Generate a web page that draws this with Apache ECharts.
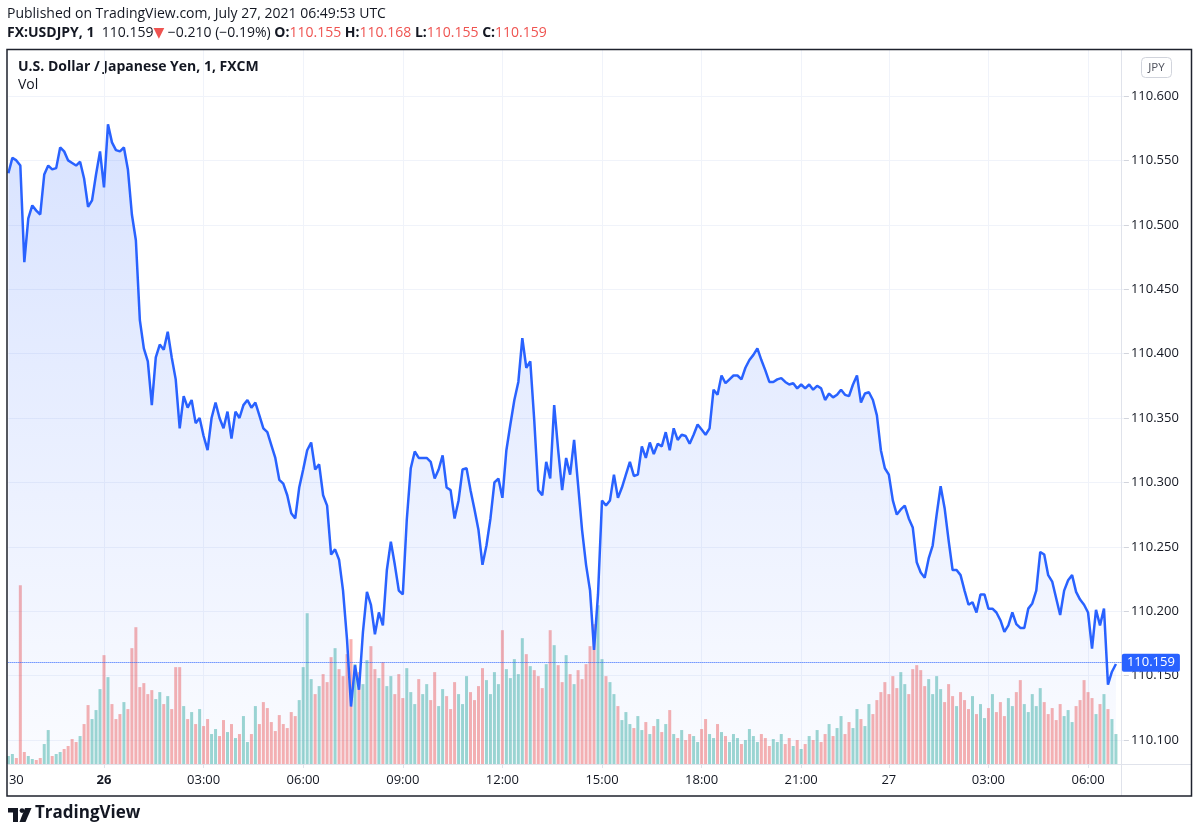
<!DOCTYPE html>
<html>
<head>
<meta charset="utf-8">
<title>USDJPY 1m</title>
<script src="https://cdn.jsdelivr.net/npm/echarts@6/dist/echarts.min.js"></script>
<style>
  html, body { margin: 0; padding: 0; background: #fff; }
  #chart { width: 1200px; height: 837px; }
</style>
</head>
<body>
<div id="chart"></div>
<script>
// one point every ~7 minutes of the 1-minute USDJPY series
var prices = [
  110.540, 110.552, 110.550, 110.546, 110.471, 110.505, 110.515, 110.511, 110.508, 110.539,
  110.546, 110.543, 110.544, 110.560, 110.557, 110.550, 110.548, 110.546, 110.549, 110.536,
  110.514, 110.519, 110.539, 110.557, 110.529, 110.578, 110.564, 110.558, 110.557, 110.560,
  110.543, 110.508, 110.488, 110.426, 110.404, 110.394, 110.360, 110.397, 110.407, 110.403,
  110.417, 110.397, 110.380, 110.342, 110.367, 110.358, 110.364, 110.346, 110.350, 110.336,
  110.325, 110.350, 110.362, 110.350, 110.342, 110.355, 110.334, 110.355, 110.350, 110.360,
  110.364, 110.358, 110.362, 110.352, 110.342, 110.339, 110.329, 110.319, 110.302, 110.299,
  110.290, 110.276, 110.272, 110.296, 110.310, 110.325, 110.331, 110.310, 110.314, 110.290,
  110.282, 110.244, 110.248, 110.240, 110.216, 110.178, 110.126, 110.158, 110.139, 110.184,
  110.215, 110.205, 110.182, 110.199, 110.189, 110.232, 110.254, 110.236, 110.216, 110.213,
  110.271, 110.311, 110.324, 110.319, 110.319, 110.319, 110.316, 110.303, 110.310, 110.321,
  110.296, 110.294, 110.272, 110.286, 110.310, 110.311, 110.294, 110.279, 110.263, 110.236,
  110.251, 110.272, 110.300, 110.303, 110.288, 110.325, 110.345, 110.364, 110.378, 110.412,
  110.389, 110.394, 110.348, 110.294, 110.290, 110.316, 110.303, 110.360, 110.325, 110.294,
  110.319, 110.306, 110.333, 110.298, 110.263, 110.236, 110.216, 110.170, 110.213, 110.286,
  110.282, 110.286, 110.306, 110.288, 110.296, 110.306, 110.316, 110.305, 110.306, 110.328,
  110.319, 110.331, 110.322, 110.330, 110.328, 110.339, 110.325, 110.342, 110.333, 110.337,
  110.336, 110.330, 110.337, 110.345, 110.341, 110.337, 110.342, 110.372, 110.368, 110.383,
  110.377, 110.380, 110.383, 110.383, 110.380, 110.389, 110.395, 110.399, 110.404, 110.395,
  110.387, 110.378, 110.378, 110.380, 110.381, 110.378, 110.376, 110.377, 110.373, 110.376,
  110.373, 110.376, 110.372, 110.375, 110.373, 110.364, 110.369, 110.366, 110.368, 110.372,
  110.368, 110.367, 110.376, 110.383, 110.362, 110.369, 110.370, 110.364, 110.352, 110.325,
  110.311, 110.306, 110.286, 110.275, 110.279, 110.282, 110.272, 110.265, 110.238, 110.230,
  110.226, 110.241, 110.251, 110.275, 110.297, 110.280, 110.255, 110.232, 110.232, 110.228,
  110.216, 110.205, 110.207, 110.199, 110.213, 110.213, 110.202, 110.202, 110.199, 110.193,
  110.184, 110.189, 110.199, 110.190, 110.187, 110.187, 110.202, 110.206, 110.216, 110.246,
  110.244, 110.228, 110.223, 110.210, 110.197, 110.216, 110.224, 110.228, 110.215, 110.209,
  110.205, 110.199, 110.171, 110.201, 110.189, 110.202, 110.143, 110.153, 110.159
];

var volumes = [
   16,  20,  12, 358,  24,  16,  10,   8,  12,  40,
   68,  16,  20,  24,  30,  36,  50,  44,  56,  80,
  118,  90, 108, 150, 218, 174, 120,  90, 100, 124,
  110, 232, 274, 154, 162, 140, 148, 130, 144, 120,
  136, 110, 194, 194, 116,  90, 104,  80, 110,  76,
   90,  60,  70,  56,  88,  64,  80,  52,  60,  96,
   44,  60, 116,  80, 124, 112,  84,  66,  98,  80,
   72, 104,  96, 128, 194, 302, 170, 140, 156, 180,
  164, 214, 232, 190, 176, 220, 250, 200, 184, 160,
  208, 236, 190, 172, 204, 156, 176, 140, 180, 132,
  192, 144, 120, 170, 140, 160, 128, 184, 116, 150,
  136, 110, 164, 140, 120, 176, 144, 128, 156, 192,
  168, 140, 184, 160, 268, 190, 172, 210, 180, 252,
  220, 196, 188, 176, 152, 200, 268, 238, 198, 164,
  218, 180, 160, 188, 170, 200, 236, 280, 318, 210,
  176, 164, 140, 116,  88, 104,  80,  72,  96,  68,
   84,  60,  76,  90,  64,  80, 108,  60,  52,  68,
   48,  60,  56,  44,  70,  90,  60,  52,  80,  64,
   56,  44,  60,  52,  40,  48,  70,  56,  44,  60,
   52,  36,  50,  44,  60,  40,  52,  36,  48,  30,
   40,  56,  48,  68,  44,  60,  80,  56,  72,  96,
   60,  84,  72, 110,  90,  76, 120, 100, 128, 144,
  164, 140, 176, 152, 184, 160, 140, 190, 198, 188,
  156, 170, 140, 176, 150, 124, 160, 136, 116, 144,
  128, 110, 136, 100, 120,  92, 112, 140, 104, 124,
   96, 132, 116, 144, 168, 120, 104, 140, 116, 152,
  124, 100, 112,  88, 120,  96, 108,  84, 116, 128,
  168, 144, 132, 100, 120, 140, 110,  90,  60
];

// time-axis labels, keyed by point index
var timeLabels = {
  2: '30', 24: '26', 49: '03:00', 74: '06:00', 99: '09:00', 124: '12:00',
  149: '15:00', 174: '18:00', 199: '21:00', 221: '27', 246: '03:00', 271: '06:00'
};
var boldLabels = { 24: true };

var priceTicks = [110.100, 110.150, 110.200, 110.250, 110.300, 110.350,
                  110.400, 110.450, 110.500, 110.550, 110.600];

var lastPrice = prices[prices.length - 1];

var categories = [];
for (var i = 0; i < 281; i++) categories.push(String(i));

var volData = volumes.map(function (v, i) {
  var up = i === 0 || prices[i] >= prices[i - 1];
  return {
    value: v,
    itemStyle: { color: up ? 'rgba(38,166,154,0.45)' : 'rgba(239,83,80,0.45)' }
  };
});

var FONT = '"Open Sans", "DejaVu Sans", sans-serif';
var TXT = '#131722';
var RED = '#ef5350';

var chart = echarts.init(document.getElementById('chart'));

var option = {
  animation: false,
  backgroundColor: '#fff',
  textStyle: { fontFamily: FONT },
  grid: { left: 8.38, right: 76.1, top: 50, bottom: 73 },
  xAxis: {
    type: 'category',
    data: categories,
    boundaryGap: false,
    axisLine: { show: false },
    axisTick: {
      show: true, length: 4,
      interval: function (idx) { return idx !== 2 && timeLabels[idx] !== undefined; },
      lineStyle: { color: '#e0e3eb' }
    },
    axisLabel: {
      interval: function (idx) { return timeLabels[idx] !== undefined; },
      formatter: function (v, idx) {
        var t = timeLabels[idx] || '';
        return boldLabels[idx] ? '{b|' + t + '}' : t;
      },
      color: TXT, fontSize: 13, margin: 10, fontFamily: FONT,
      rich: { b: { fontWeight: 'bold', fontSize: 13, color: TXT, fontFamily: FONT } }
    },
    splitLine: {
      show: true,
      interval: function (idx) { return idx !== 2 && timeLabels[idx] !== undefined; },
      lineStyle: { color: '#f0f3fa' }
    }
  },
  yAxis: [
    {
      type: 'value',
      position: 'right',
      min: 110.08137,
      max: 110.63571,
      axisLine: { show: false },
      axisTick: { show: true, length: 5, customValues: priceTicks, lineStyle: { color: '#d1d4dc' } },
      axisLabel: {
        customValues: priceTicks,
        formatter: function (v) { return v.toFixed(3); },
        color: TXT, fontSize: 13, margin: 7, fontFamily: FONT
      },
      splitLine: { show: true, lineStyle: { color: '#f0f3fa' } }
    },
    {
      type: 'value',
      min: 0,
      max: 1430,
      show: false,
      splitLine: { show: false }
    }
  ],
  series: [
    {
      name: 'Vol',
      type: 'bar',
      yAxisIndex: 1,
      data: volData,
      barWidth: 3,
      z: 1,
      silent: true
    },
    {
      name: 'USDJPY',
      type: 'line',
      data: prices,
      showSymbol: false,
      z: 3,
      lineStyle: { color: '#2962ff', width: 2.5 },
      areaStyle: {
        origin: 'start',
        color: new echarts.graphic.LinearGradient(0, 0, 0, 1, [
          { offset: 0, color: 'rgba(41,98,255,0.26)' },
          { offset: 1, color: 'rgba(41,98,255,0.03)' }
        ])
      },
      markLine: {
        silent: true,
        symbol: ['none', 'none'],
        lineStyle: { color: '#2962ff', type: 'dotted', width: 1 },
        label: {
          position: 'end',
          distance: -2,
          formatter: function () { return lastPrice.toFixed(3); },
          backgroundColor: '#2962ff',
          color: '#fff',
          fontSize: 13,
          fontFamily: FONT,
          padding: [3, 5, 2, 5],
          borderRadius: 2
        },
        data: [{ yAxis: lastPrice }]
      }
    }
  ],
  graphic: [
    {
      type: 'text', left: 7, top: 7,
      style: {
        text: 'Published on TradingView.com, July 27, 2021 06:49:53 UTC',
        fill: TXT, font: '14px ' + FONT
      }
    },
    {
      type: 'text', left: 7, top: 26,
      style: {
        text: '{b|FX:USDJPY, 1}  {n|110.159}{r|\u25BC} {n|\u22120.210 (\u22120.19%)} ' +
              '{b|O:}{r|110.155} {b|H:}{r|110.168} {b|L:}{r|110.155} {b|C:}{r|110.159}',
        font: '14px ' + FONT,
        fill: TXT,
        rich: {
          b: { fontWeight: 'bold', fontSize: 14, fill: TXT, fontFamily: FONT },
          n: { fontSize: 14, fill: TXT, fontFamily: FONT },
          r: { fontSize: 14, fill: RED, fontFamily: FONT }
        }
      }
    },
    {
      type: 'text', left: 18, top: 60,
      style: {
        text: 'U.S. Dollar / Japanese Yen, 1, FXCM',
        fill: TXT, font: 'bold 14px ' + FONT
      }
    },
    {
      type: 'text', left: 18, top: 78,
      style: { text: 'Vol', fill: TXT, font: '14px ' + FONT }
    },
    // JPY currency button
    {
      type: 'rect', z: 10,
      shape: { x: 1141.5, y: 57.5, width: 30, height: 20, r: 4 },
      style: { fill: '#fff', stroke: '#d1d4dc', lineWidth: 1 }
    },
    {
      type: 'text', z: 11, x: 1156.5, y: 67.5,
      style: {
        text: 'JPY', fill: '#50535e', font: '11.5px ' + FONT,
        textAlign: 'center', textVerticalAlign: 'middle'
      }
    },
    // pane separators
    {
      type: 'line', z: 5,
      shape: { x1: 1121.5, y1: 50, x2: 1121.5, y2: 796 },
      style: { stroke: '#e0e3eb', lineWidth: 1 }
    },
    {
      type: 'line', z: 5,
      shape: { x1: 8, y1: 764.5, x2: 1191, y2: 764.5 },
      style: { stroke: '#e0e3eb', lineWidth: 1 }
    },
    // outer frame
    {
      type: 'rect', z: 20,
      shape: { x: 7, y: 49.5, width: 1184.5, height: 746.5 },
      style: { fill: 'none', stroke: '#1e222d', lineWidth: 1.5 }
    },
    // TradingView logo
    {
      type: 'group', left: 8, top: 808,
      children: [
        { type: 'rect', shape: { x: 0, y: 0, width: 10, height: 4.5 }, style: { fill: TXT } },
        { type: 'rect', shape: { x: 5, y: 0, width: 5, height: 14 }, style: { fill: TXT } },
        { type: 'circle', shape: { cx: 14, cy: 2.6, r: 2.4 }, style: { fill: TXT } },
        { type: 'polygon', shape: { points: [[17, 0], [23.5, 0], [17.5, 14], [11.5, 14]] }, style: { fill: TXT } }
      ]
    },
    {
      type: 'text', left: 35, top: 805,
      style: { text: 'TradingView', fill: TXT, font: 'bold 17px ' + FONT }
    }
  ]
};

chart.setOption(option);
</script>
</body>
</html>
